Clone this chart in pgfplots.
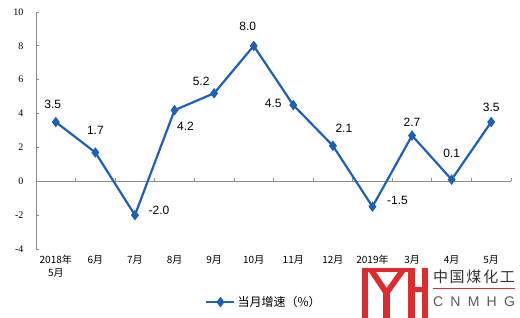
\documentclass[border=0pt]{standalone}
\usepackage{pgfplots}
\pgfplotsset{compat=1.18}
\usepackage{pgfplotstable}
\usepackage{fontspec}
\setmainfont{Liberation Serif}
\newfontfamily\cjk{Noto Sans CJK SC}
\newfontfamily\arial{Liberation Sans}
\definecolor{lineblue}{RGB}{31,95,180}
\definecolor{logored}{RGB}{222,44,44}
\definecolor{axgray}{RGB}{140,140,140}

\pgfplotstableread{
x y dx dy lab
0 3.5 -3 18 3.5
1 1.7 0 22 1.7
2 -2.0 24 5 -2.0
3 4.2 11 -16 4.2
4 5.2 -13 12 5.2
5 8.0 -6 19 8.0
6 4.5 -20 2 4.5
7 2.1 11 17 2.1
8 -1.5 25 6 -1.5
9 2.7 0 13 2.7
10 0.1 0 26 0.1
11 3.5 0 15 3.5
}\datatable

\begin{document}
\begin{tikzpicture}
\path[use as bounding box] (0pt,0pt) rectangle (520pt,318pt);
\begin{axis}[
  at={(36pt,69pt)}, anchor=south west,
  scale only axis, width=475pt, height=237pt,
  xmin=-0.5, xmax=11.5, ymin=-4, ymax=10,
  ytick={-4,-2,0,2,4,6,8,10},
  xtick={0,1,2,3,4,5,6,7,8,9,10,11},
  xticklabels={{2018年\\5月},6月,7月,8月,9月,10月,11月,12月,2019年,3月,4月,5月},
  axis y line*=left, axis x line*=bottom,
  x axis line style={draw=none},
  y axis line style={axgray, line width=0.8pt},
  ytick style={axgray, line width=0.8pt},
  xtick style={draw=none},
  major tick length=3pt, tick align=inside,
  xticklabel style={font=\cjk\fontsize{10}{13}\selectfont, align=center, yshift=-3pt},
  yticklabel style={font=\fontsize{10}{12}\selectfont, xshift=-9pt},
  /pgf/number format/assume math mode=true,
  clip=false,
  legend style={at={(0.48,-0.224)}, anchor=center, draw=none, fill=none,
    font=\cjk\fontsize{12}{14}\selectfont},
  legend image code/.code={\draw[mark repeat=2, mark phase=2] plot coordinates {(0pt,0pt) (14pt,0pt) (28pt,0pt)};},
]
\draw[axgray, line width=0.8pt] (axis cs:-0.5,0) -- (axis cs:11.5,0);
\pgfplotsinvokeforeach{0.5,1.5,2.5,3.5,4.5,5.5,6.5,7.5,8.5,9.5,10.5,11.5}{
  \draw[axgray, line width=0.8pt] (axis cs:#1,0) -- ++(0pt,3pt);
}
\addplot[lineblue, line width=2.2pt, mark=diamond*, mark size=3.5pt, mark options={solid}]
  table[x=x, y=y] {\datatable};
\addlegendentry{当月增速（\%）}
\addplot[draw=none, mark=none, forget plot, nodes near coords, point meta=explicit symbolic,
  visualization depends on={\thisrow{dx}\as\dx},
  visualization depends on={\thisrow{dy}\as\dy},
  every node near coord/.append style={anchor=center, xshift=\dx*1pt, yshift=\dy*1pt,
    font=\arial\fontsize{12}{14}\selectfont, text=black}]
  table[x=x, y=y, meta=lab] {\datatable};
\end{axis}
% logo watermark
\fill[logored] (362pt,0pt) rectangle (368pt,50pt);
\fill[logored] (362pt,46pt) rectangle (408pt,50pt);
\fill[logored] (369pt,46pt) -- (376pt,46pt) -- (390pt,25pt) -- (383pt,25pt) -- cycle;
\fill[logored] (398pt,46pt) -- (405pt,46pt) -- (390pt,25pt) -- (383pt,25pt) -- cycle;
\fill[logored] (383pt,0pt) rectangle (390pt,27pt);
\fill[logored] (408pt,0pt) rectangle (415pt,50pt);
\fill[logored] (415pt,26pt) rectangle (422pt,31pt);
\fill[logored] (422pt,0pt) rectangle (428pt,50pt);
\node[font=\cjk\fontsize{15}{15}\selectfont, text=black!80, inner sep=0pt] at (474pt,41pt)
  {\makebox[82pt]{中\hfill 国\hfill 煤\hfill 化\hfill 工}};
\draw[logored, line width=1pt] (433pt,29pt) -- (515pt,29pt);
\node[font=\arial\fontsize{14}{14}\selectfont, text=black!65, inner sep=0pt] at (474pt,16pt)
  {\makebox[82pt]{C\hfill N\hfill M\hfill H\hfill G}};
\end{tikzpicture}
\end{document}
